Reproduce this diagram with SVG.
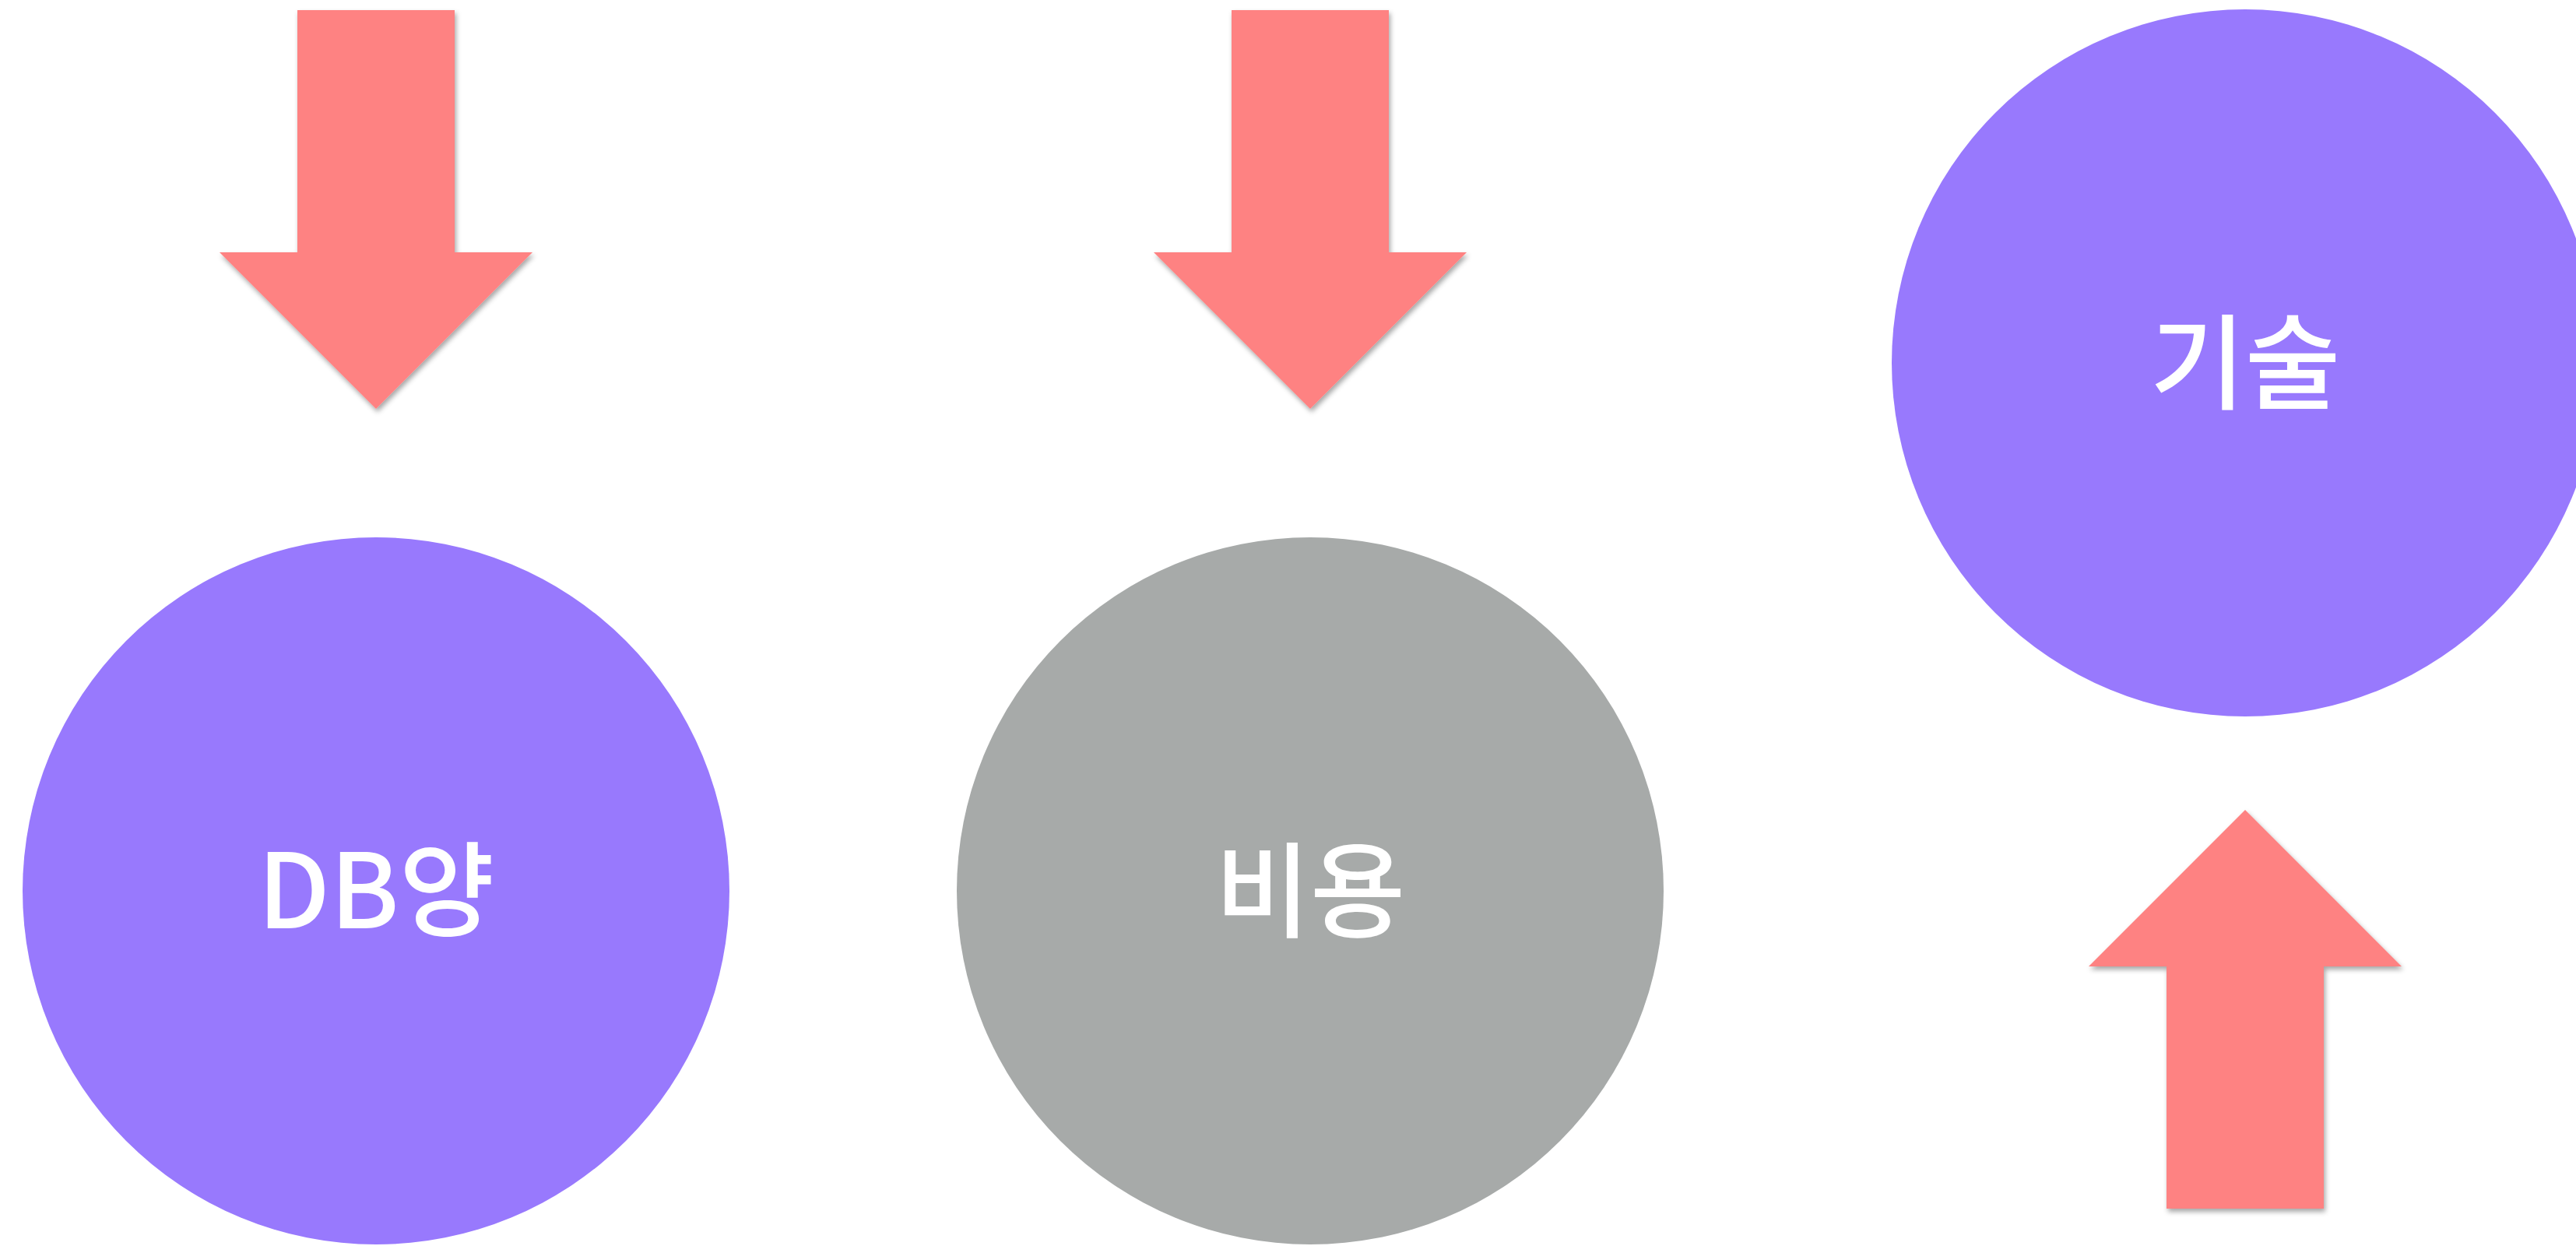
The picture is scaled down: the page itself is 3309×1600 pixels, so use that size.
<svg xmlns="http://www.w3.org/2000/svg" width="3309" height="1600" viewBox="0 0 3309 1600">
  <style>
    .purple { fill: #9879fd; }
    .gray { fill: #a7aaa9; }
    .arrow { fill: #fe8282; }
    .shadowed { filter: url(#shadow); }
    .label { fill: #ffffff; font-family: "Noto Sans CJK KR", "Noto Sans", sans-serif; font-size: 133px; font-weight: 500; text-anchor: middle; }
  </style>
  <defs>
    <filter id="shadow" x="-20%" y="-20%" width="140%" height="140%">
      <feDropShadow dx="2" dy="4" stdDeviation="3" flood-color="#000000" flood-opacity="0.35"/>
    </filter>
    <!-- block arrow pointing down, tip at origin -->
    <path id="blockArrow" d="M -101 -512 L 101 -512 L 101 -201 L 201 -201 L 0 0 L -201 -201 L -101 -201 Z"/>
  </defs>
  <rect width="3309" height="1600" fill="#ffffff"/>

  <g id="node-db">
    <circle class="purple" cx="483" cy="1144" r="454"/>
    <text class="label" x="483" y="1192">DB양</text>
  </g>
  <g id="node-cost">
    <circle class="gray" cx="1683" cy="1144" r="454"/>
    <text class="label" x="1683" y="1193">비용</text>
  </g>
  <g id="node-tech">
    <circle class="purple" cx="2884" cy="466" r="454"/>
    <text class="label" x="2884" y="515">기술</text>
  </g>

  <g id="connectors">
    <g class="shadowed">
      <use href="#blockArrow" class="arrow" transform="translate(483 525)"/>
    </g>
    <g class="shadowed">
      <use href="#blockArrow" class="arrow" transform="translate(1683 525)"/>
    </g>
    <g class="shadowed">
      <use href="#blockArrow" class="arrow" transform="translate(2884 1040) rotate(180)"/>
    </g>
  </g>
</svg>
